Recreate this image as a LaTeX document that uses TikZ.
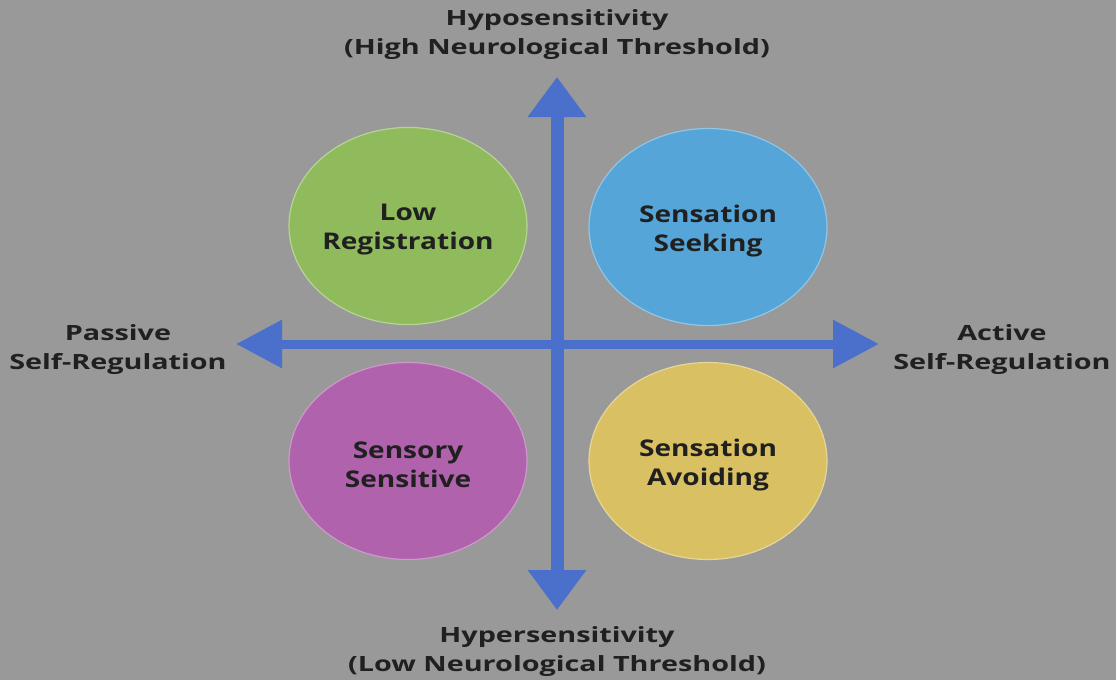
\documentclass[tikz,border=0pt]{standalone}
\usepackage{fontspec}
\setmainfont{Open Sans}
\newfontfamily\axfont[FakeStretch=1.37]{Open Sans}
\newfontfamily\qfont[FakeStretch=1.22]{Open Sans}
\usetikzlibrary{arrows.meta,shapes.geometric}
\definecolor{bg}{RGB}{153,153,153}
\definecolor{axisblue}{RGB}{74,112,204}
\definecolor{cgreen}{RGB}{144,187,92}
\definecolor{cblue}{RGB}{86,165,216}
\definecolor{cpink}{RGB}{176,98,173}
\definecolor{cyellow}{RGB}{217,192,98}
\definecolor{txt}{RGB}{32,32,32}
\tikzset{
  quad/.style={ellipse, minimum width=238pt, minimum height=197pt, inner sep=0pt,
     draw=white!35!#1, line width=1.2pt, fill=#1},
  quadtext/.style={text=txt, align=center, inner sep=0pt, yshift=-4pt,
     font=\qfont\bfseries\fontsize{23}{29}\selectfont},
  axlabel/.style={text=txt, align=center, inner sep=0pt,
     font=\axfont\bfseries\fontsize{21}{29}\selectfont},
  vaxis/.style={draw=axisblue, line width=13pt,
     {Triangle[width=56pt,length=40pt,fill=axisblue]}-{Triangle[width=56pt,length=40pt,fill=axisblue]}},
  haxis/.style={draw=axisblue, line width=9pt,
     {Triangle[width=46pt,length=46pt,fill=axisblue]}-{Triangle[width=46pt,length=46pt,fill=axisblue]}}
}
\begin{document}
\begin{tikzpicture}[x=1pt,y=-1pt]
\fill[bg] (0,0) rectangle (1116,680);
\useasboundingbox (0,0) rectangle (1116,680);
% quadrants
\node[quad=cgreen, label={[quadtext]center:Low\\Registration}]  (lowreg) at (408,226) {};
\node[quad=cblue, label={[quadtext]center:Sensation\\Seeking}]   (seek)   at (708,227) {};
\node[quad=cpink, label={[quadtext]center:Sensory\\Sensitive}]   (sens)   at (408,461) {};
\node[quad=cyellow, label={[quadtext]center:Sensation\\Avoiding}] (avoid)  at (708,461) {};
% axes
\coordinate (top) at (557,77);
\coordinate (bot) at (557,610);
\coordinate (lft) at (236,344);
\coordinate (rgt) at (879,344);
\draw[vaxis] (bot) -- (top);
\draw[haxis] (lft) -- (rgt);
% labels
\node[axlabel] (hypo)  at (557,35)  {Hyposensitivity\\(High Neurological Threshold)};
\node[axlabel] (hyper) at (557,652) {Hypersensitivity\\(Low Neurological Threshold)};
\node[axlabel] (pass)  at (118,350) {Passive\\Self-Regulation};
\node[axlabel] (act)   at (1002,350) {Active\\Self-Regulation};
\end{tikzpicture}
\end{document}
